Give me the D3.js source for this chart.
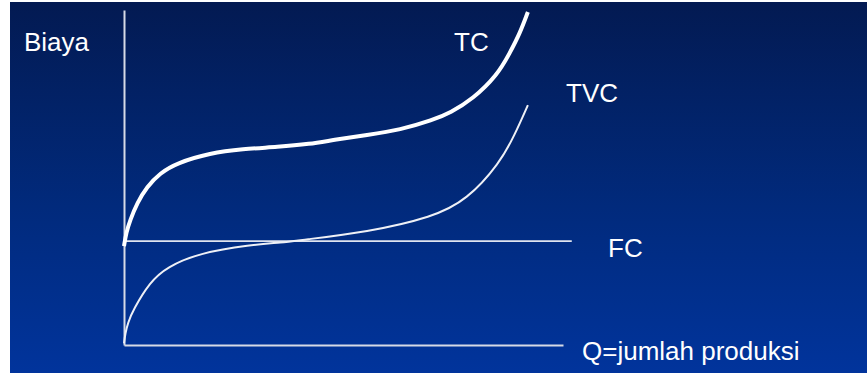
<!DOCTYPE html>
<html>
<head>
<meta charset="utf-8">
<script src="https://cdn.jsdelivr.net/npm/d3@7"></script>
<style>
  html, body { margin: 0; padding: 0; background: #ffffff; }
  svg { display: block; }
  text { font-family: "Liberation Sans", Arial, sans-serif; fill: #ffffff; }
</style>
</head>
<body>
<svg id="chart" width="867" height="373"></svg>
<script>
// Quantity produced (Q) and cost readings for each curve
const tcQ   = [0, 0.5, 1.4, 3, 5.2, 8.2, 12, 19.6, 27, 35, 42.4, 47.6, 55.4, 62.9, 70.4, 74.3, 79.5, 85, 87.9, 90.2, 92];
const tcCost = [29.5, 33.5, 37.3, 42.4, 47.2, 51.3, 54.3, 57.3, 58.5, 59.1, 60.0, 61.2, 62.7, 64.2, 67.2, 69.3, 73.5, 80.5, 87.2, 93.1, 99.4];

const tvcQ   = [0, 0.3, 0.9, 2.05, 5.9, 9.8, 17.3, 28.7, 36.2, 40.1, 55.4, 70.4, 78.1, 85.6, 89, 92];
const tvcCost = [0.5, 3.5, 6.6, 10.4, 18.8, 23.3, 27.5, 29.9, 30.6, 31.3, 33.7, 38.2, 43.3, 54.3, 62.7, 71.6];

// Fixed cost is constant over the whole output range
const fcQ = [0, 102];
const fcCost = [31, 31];

const labels = { y: "Biaya", x: "Q=jumlah produksi", tc: "TC", tvc: "TVC", fc: "FC" };

const svg = d3.select("#chart");
const W = 867, H = 373;

// Background panel with vertical blue gradient
const defs = svg.append("defs");
const grad = defs.append("linearGradient")
  .attr("id", "bg").attr("x1", 0).attr("y1", 0).attr("x2", 0).attr("y2", 1);
grad.append("stop").attr("offset", "0%").attr("stop-color", "#031a52");
grad.append("stop").attr("offset", "55%").attr("stop-color", "#012a7c");
grad.append("stop").attr("offset", "100%").attr("stop-color", "#01349c");
svg.append("rect").attr("x", 10).attr("y", 2).attr("width", W - 10).attr("height", H - 2)
  .attr("fill", "url(#bg)");

const x = d3.scaleLinear().domain([0, 100]).range([124, 563]);
const y = d3.scaleLinear().domain([0, 100]).range([345, 10]);

// Axes: bare lines, no ticks
const xAxis = svg.append("g").attr("transform", `translate(0,${y(0)})`)
  .call(d3.axisBottom(x).tickValues([]).tickSizeOuter(0));
const yAxis = svg.append("g").attr("transform", `translate(${x(0)},0)`)
  .call(d3.axisLeft(y).tickValues([]).tickSizeOuter(0));
[xAxis, yAxis].forEach(g => g.select(".domain")
  .attr("stroke", "#d6dae6").attr("stroke-width", 2));

const line = d3.line().x(d => x(d[0])).y(d => y(d[1])).curve(d3.curveBasis);

// FC
svg.append("path")
  .datum(d3.zip(fcQ, fcCost))
  .attr("d", d3.line().x(d => x(d[0])).y(d => y(d[1])))
  .attr("fill", "none").attr("stroke", "#dfe3ee").attr("stroke-width", 1.6);

// TVC
svg.append("path")
  .datum(d3.zip(tvcQ, tvcCost))
  .attr("d", line)
  .attr("fill", "none").attr("stroke", "#eef0f6").attr("stroke-width", 2);

// TC
svg.append("path")
  .datum(d3.zip(tcQ, tcCost))
  .attr("d", line)
  .attr("fill", "none").attr("stroke", "#ffffff").attr("stroke-width", 4);

// Labels
const fs = 26;
svg.append("text").attr("x", 24).attr("y", 51).attr("font-size", fs).text(labels.y);
svg.append("text").attr("x", 454).attr("y", 51).attr("font-size", fs).text(labels.tc);
svg.append("text").attr("x", 566).attr("y", 102).attr("font-size", fs).text(labels.tvc);
svg.append("text").attr("x", 608).attr("y", 257).attr("font-size", fs).text(labels.fc);
svg.append("text").attr("x", 582).attr("y", 360).attr("font-size", fs).text(labels.x);
</script>
</body>
</html>
